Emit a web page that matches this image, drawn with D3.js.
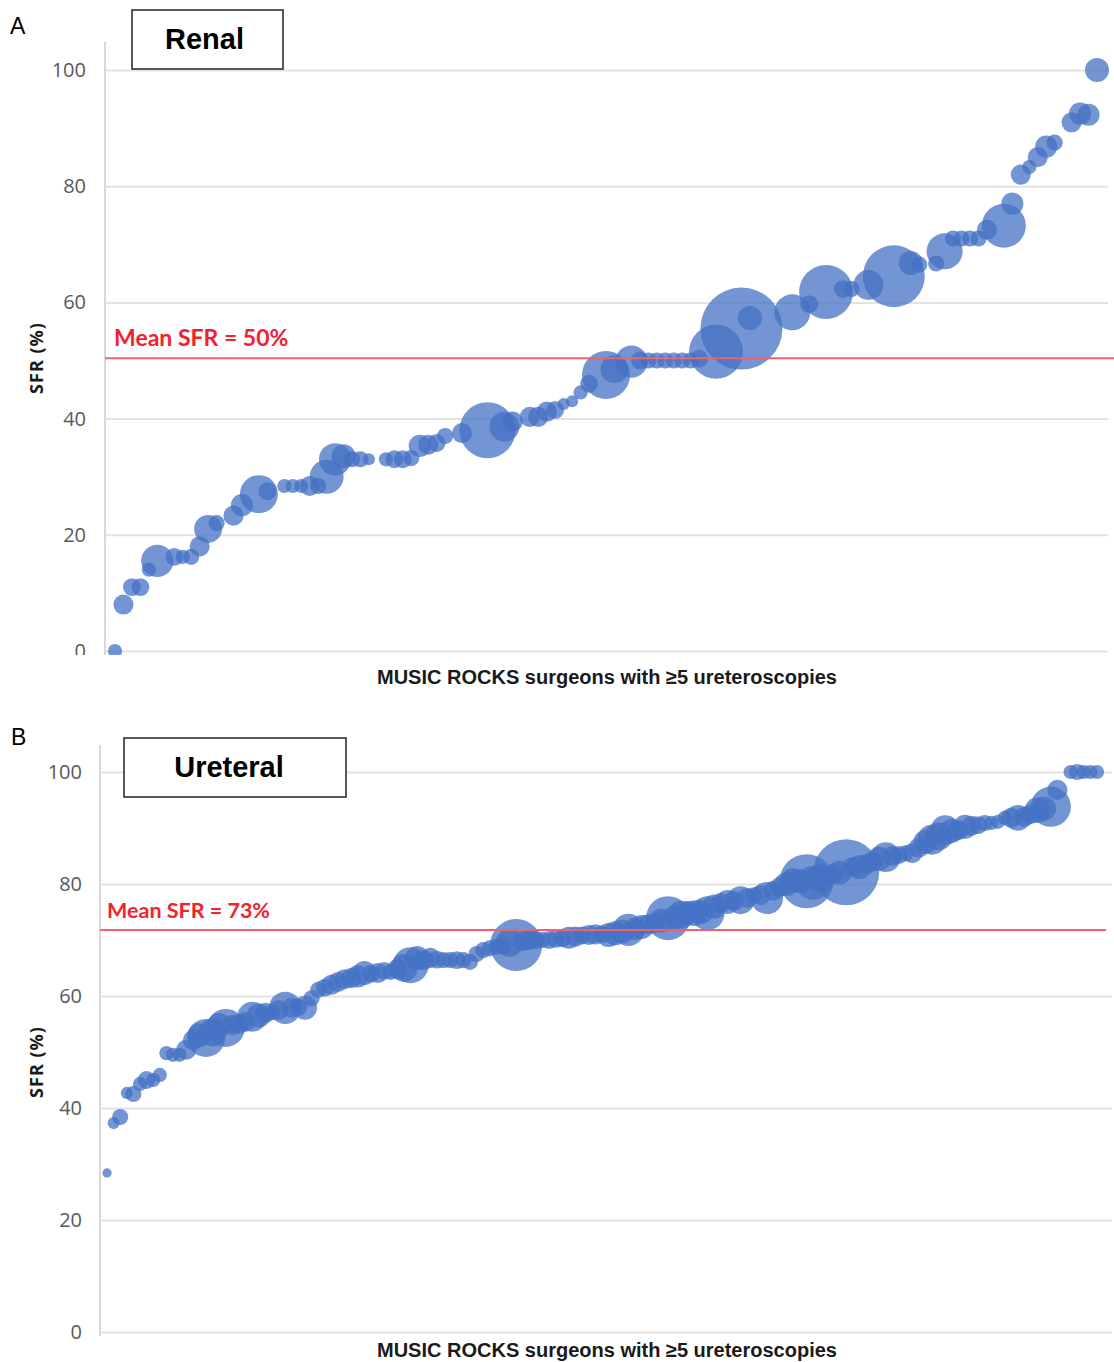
<!DOCTYPE html>
<html>
<head>
<meta charset="utf-8">
<script src="https://cdn.jsdelivr.net/npm/d3@7"></script>
<style>
  html, body { margin: 0; padding: 0; background: #fff; }
  svg { display: block; }
</style>
</head>
<body>
<svg id="chart" width="1114" height="1362"></svg>
<script>
// ---------------- DATA ----------------
const yTicks = [0, 20, 40, 60, 80, 100];
const panelLetters = ["A", "B"];
const panelTitles = ["Renal", "Ureteral"];
const xAxisTitle = "MUSIC ROCKS surgeons with \u22655 ureteroscopies";
const yAxisTitle = "SFR (%)";
const meanLineSFR = [50.4, 71.8];
const meanLabels = ["Mean SFR = 50%", "Mean SFR = 73%"];

// Panel A – Renal (surgeon rank, stone-free rate %, number of cases)
const renalRank = [0,1,2,3,4,5,7,8,9,10,11,12,14,15,17,18,20,21,22,23,24,25,26,27,28,29,30,32,33,34,35,36,37,38,39,41,44,46,47,49,50,51,52,53,54,55,56,58,59,61,62,63,64,65,66,67,68,69,71,74,75,80,82,84,86,87,89,92,94,95,97,98,99,100,101,102,103,105,106,107,108,109,110,111,113,114,115,116];
const renalSFR = [0,8,11,11,14,15.5,16.2,16.2,16.2,18,21,22,23.3,25.1,27,27.5,28.4,28.4,28.4,28.4,28.4,30,33,33.5,33,33,33,33,33,33,33.2,35.3,35.5,35.8,37,37.5,38,38.6,39.5,40.3,40.3,41.2,41.5,42.5,43,44.5,46,47.5,48.5,49.8,50,50,50,50,50,50,50,50.3,51.5,55.5,57.3,58.3,59.7,61.8,62.3,62.3,63,64.5,66.8,66.5,66.7,68.8,71,71,71,71,72.5,73.2,77,82,83.3,85,86.8,87.5,91,92.5,92.3,100];
const renalCases = [7,14,11,11,7,36,11,7,9,14,27,9,14,17,50,11,7,7,7,14,9,40,36,20,9,9,5,7,11,11,9,17,14,11,9,14,109,31,14,14,14,14,11,5,5,7,11,80,27,36,11,9,9,9,9,9,9,11,101,233,20,45,11,101,11,9,31,133,20,9,9,45,9,9,9,9,14,67,17,14,7,14,17,9,14,17,17,20];

// Panel B – Ureteral
const ureteralRank = [
  0,1,2,3,4,5,6,7,8,9,
  10,11,12,13,14,15,16,17,18,19,
  20,21,22,23,24,25,26,27,28,29,
  30,31,32,33,34,35,36,37,38,39,
  40,41,42,43,44,45,46,47,48,49,
  50,51,52,53,54,55,56,57,58,59,
  60,61,62,63,64,65,66,67,68,69,
  70,71,72,73,74,75,76,77,78,79,
  80,81,82,83,84,85,86,87,88,89,
  90,91,92,93,94,95,96,97,98,99,
  100,101,102,103,104,105,106,107,108,109,
  110,111,112,113,114,115,116,117,118,119,
  120,121,122,123,124,125,126,127,128,129,
  130,131,132,133,134,135,136,137,138,139,
  140,141,142,143,144,146,147,148,149,150];
const ureteralSFR = [
  28.4,37.3,38.4,42.7,42.5,44.3,45,45,45.9,49.8,
  49.5,49.5,50.4,52.1,53,52.5,53.5,54.8,54.3,54.8,
  55,55.4,56.3,56.5,57,57.1,57.5,57.9,57.9,58,
  57.9,59.6,61.1,61.5,62,62.5,63,63.2,63.5,64.1,
  64,64.1,64.5,64.3,64.8,65,65.5,66.8,66.4,66.8,
  66.5,66.4,66.4,66.4,66.4,66.1,67.5,68.2,68.5,68.8,
  69,69.5,69.1,69.8,70,70,70,70,70.2,70.3,
  70.4,70.6,70.8,70.9,71,71,70.9,71.2,71.5,71.8,
  72,72.3,72.8,73,73.5,73.9,74,74.5,74.8,74.8,
  75,74.8,76,76.6,76.8,77,77.1,77.5,78,78,
  77.5,78.8,79.5,80,80.7,80.5,80.5,80.2,81,81.5,
  81.8,82,82.1,83,83,83.5,84,84.5,84.8,85,
  85.2,85.5,85.5,86.5,87.5,87.9,88.5,89.6,89.5,89.6,
  90.2,90.4,90.5,90.9,90.9,91.1,91.8,91.8,91.8,92,
  92.5,93.2,93.5,93.8,96.8,100,100,100,100,100];
const ureteralCases = [
  3,5,9,5,9,7,11,7,7,7,
  7,7,14,14,20,50,27,20,50,14,
  14,14,31,20,14,9,14,36,14,11,
  20,9,9,11,14,14,14,14,17,20,
  11,14,11,9,14,27,45,20,14,14,
  11,9,9,11,9,9,9,9,9,9,
  11,27,94,14,14,11,9,11,11,11,
  17,14,11,14,14,11,20,20,20,36,
  17,20,14,14,20,67,20,27,20,23,
  20,40,20,14,20,14,27,14,9,14,
  36,14,14,20,20,20,101,40,27,14,
  14,20,151,14,20,14,14,20,31,14,
  11,9,14,14,20,31,27,31,20,14,
  20,14,11,9,7,7,7,14,23,14,
  14,23,20,56,14,7,9,7,7,7];

// ---------------- DRAWING ----------------
const svg = d3.select("#chart");
const bubbleColor = "#4472C4";
const sizeScale = d3.scaleSqrt().domain([0, 233]).range([0, 41]);

const panels = [
  {
    rank: renalRank, sfr: renalSFR, cases: renalCases,
    rankDomain: [0, 116], xRange: [115, 1097], yRange: [651, 70],
    axisX: 105, axisTop: 42, gridRight: 1108, clipTop: 0, clipBottom: 655,
    tickRight: 86, meanX: [105, 1114], meanText: [114, 346], meanSize: 23,
    box: [132, 10, 151, 59], boxTextDx: -3, letterPos: [10, 34],
    xTitleY: 684, yTitlePos: [43, 358]
  },
  {
    rank: ureteralRank, sfr: ureteralSFR, cases: ureteralCases,
    rankDomain: [0, 150], xRange: [107, 1097], yRange: [1332, 772],
    axisX: 100, axisTop: 745, gridRight: 1112, clipTop: 700, clipBottom: 1362,
    tickRight: 82, meanX: [100, 1106], meanText: [107, 918], meanSize: 21.5,
    box: [124, 738, 222, 59], boxTextDx: -6, letterPos: [11, 745],
    xTitleY: 1357, yTitlePos: [43, 1062]
  }
];

const defs = svg.append("defs");

panels.forEach((p, i) => {
  const x = d3.scaleLinear().domain(p.rankDomain).range(p.xRange);
  const y = d3.scaleLinear().domain([0, 100]).range(p.yRange);

  const clipId = "clip" + i;
  defs.append("clipPath").attr("id", clipId)
    .append("rect")
    .attr("x", 0).attr("y", p.clipTop)
    .attr("width", 1114)
    .attr("height", p.clipBottom - p.clipTop);

  const g = svg.append("g").attr("clip-path", `url(#${clipId})`);

  // gridlines via axis
  const grid = g.append("g")
    .attr("transform", `translate(${p.axisX},0)`)
    .call(d3.axisLeft(y).tickValues(yTicks).tickSize(-(p.gridRight - p.axisX)).tickFormat(""));
  grid.select(".domain").remove();
  grid.selectAll(".tick line").attr("stroke", "#e3e3e3").attr("stroke-width", 2);

  // tick labels
  const labels = g.append("g")
    .attr("transform", `translate(${p.tickRight},0)`)
    .call(d3.axisLeft(y).tickValues(yTicks).tickSize(0).tickPadding(0));
  labels.select(".domain").remove();
  labels.selectAll(".tick text")
    .attr("fill", "#595959")
    .attr("font-family", "'Open Sans', sans-serif")
    .attr("font-size", 20);

  // vertical axis line
  g.append("line")
    .attr("x1", p.axisX).attr("x2", p.axisX)
    .attr("y1", p.axisTop).attr("y2", y(0) + 4)
    .attr("stroke", "#d9d9d9").attr("stroke-width", 2);

  // bubbles
  const data = p.rank.map((r, k) => ({ rank: r, sfr: p.sfr[k], cases: p.cases[k] }));
  g.append("g").selectAll("circle")
    .data(data).join("circle")
    .attr("cx", d => x(d.rank))
    .attr("cy", d => y(d.sfr))
    .attr("r", d => sizeScale(d.cases))
    .attr("fill", bubbleColor)
    .attr("fill-opacity", 0.75);

  // mean line
  g.append("line")
    .attr("x1", p.meanX[0]).attr("x2", p.meanX[1])
    .attr("y1", y(meanLineSFR[i])).attr("y2", y(meanLineSFR[i]))
    .attr("stroke", "#f0626a").attr("stroke-width", 2);

  svg.append("text")
    .attr("x", p.meanText[0]).attr("y", p.meanText[1])
    .attr("fill", "#f5202e")
    .attr("font-family", "Lato, 'Open Sans', sans-serif")
    .attr("font-weight", "bold")
    .attr("font-size", p.meanSize)
    .text(meanLabels[i]);

  // title box
  svg.append("rect")
    .attr("x", p.box[0]).attr("y", p.box[1])
    .attr("width", p.box[2]).attr("height", p.box[3])
    .attr("fill", "#fff").attr("stroke", "#222").attr("stroke-width", 1.5);
  svg.append("text")
    .attr("x", p.box[0] + p.box[2] / 2 + p.boxTextDx)
    .attr("y", p.box[1] + p.box[3] / 2 + 9)
    .attr("text-anchor", "middle")
    .attr("font-family", "'Liberation Sans', Arial, sans-serif")
    .attr("font-weight", "bold")
    .attr("font-size", 29)
    .attr("fill", "#000")
    .text(panelTitles[i]);

  // panel letter
  svg.append("text")
    .attr("x", p.letterPos[0]).attr("y", p.letterPos[1])
    .attr("font-family", "'Liberation Sans', Arial, sans-serif")
    .attr("font-size", 23)
    .attr("fill", "#000")
    .text(panelLetters[i]);

  // axis titles
  svg.append("text")
    .attr("x", 607).attr("y", p.xTitleY)
    .attr("text-anchor", "middle")
    .attr("font-family", "'Liberation Sans', Arial, sans-serif")
    .attr("font-weight", "bold")
    .attr("font-size", 20)
    .attr("fill", "#1a1a1a")
    .text(xAxisTitle);

  svg.append("text")
    .attr("transform", `translate(${p.yTitlePos[0]},${p.yTitlePos[1]}) rotate(-90)`)
    .attr("text-anchor", "middle")
    .attr("font-family", "'Open Sans', sans-serif")
    .attr("font-weight", "bold")
    .attr("font-size", 18)
    .attr("letter-spacing", 1)
    .attr("fill", "#1a1a1a")
    .text(yAxisTitle);
});
</script>
</body>
</html>
